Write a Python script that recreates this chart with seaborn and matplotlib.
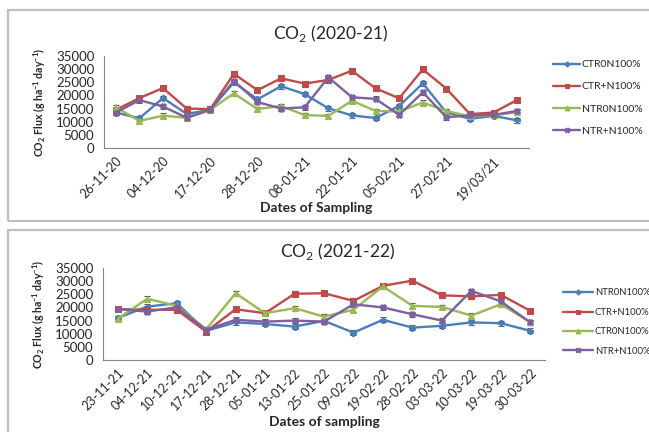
import matplotlib
matplotlib.use("Agg")
import matplotlib.pyplot as plt
from matplotlib.patches import Rectangle
import numpy as np
import pandas as pd
import seaborn as sns

# 2020-21 season
dates_1 = ["26-11-20", "", "04-12-20", "", "17-12-20", "", "28-12-20", "", "08-01-21", "",
           "22-01-21", "", "05-02-21", "", "27-02-21", "", "19/03/21", ""]
ctr0_1 = [13500, 11300, 19000, 13000, 14500, 25000, 18500, 23500, 20500, 15100,
          12400, 11400, 16000, 24600, 13500, 11100, 12200, 10500]
ctrn_1 = [14500, 19000, 22800, 15000, 14800, 28200, 22000, 26500, 24500, 25900,
          29400, 22700, 18900, 29900, 22600, 12900, 13500, 18300]
ntr0_1 = [15500, 10300, 12300, 11500, 14500, 20800, 14800, 16000, 12500, 12200,
          18000, 14100, 13900, 17300, 14100, 12000, 12400, 13600]
ntrn_1 = [13500, 18200, 15800, 11500, 14500, 25500, 17500, 15000, 15500, 26900,
          19300, 18700, 12600, 21200, 11700, 12400, 12600, 14100]

# 2021-22 season
dates_2 = ["23-11-21", "04-12-21", "10-12-21", "17-12-21", "28-12-21", "05-01-21", "13-01-22",
           "25-01-22", "09-02-22", "19-02-22", "28-02-22", "03-03-22", "10-03-22", "19-03-22",
           "30-03-22"]
ntr0_2 = [16000, 20300, 21600, 11100, 14300, 13700, 12700, 14900, 10400, 15300,
          12300, 13000, 14300, 14000, 11100]
ctrn_2 = [19400, 19100, 19100, 10800, 19300, 17800, 25200, 25400, 22500, 28200,
          30200, 24600, 24200, 24800, 18700]
ctr0_2 = [15700, 23300, 20600, 11700, 25400, 17800, 19700, 16500, 19100, 28000,
          20600, 20200, 16900, 21200, 14400]
ntrn_2 = [19400, 18400, 20100, 11500, 15300, 14600, 15000, 14600, 21200, 20000,
          17400, 15000, 26300, 22300, 14300]

err = 900

BLUE = "#4A7EBB"
RED = "#BE4B48"
GREEN = "#98B954"
PURPLE = "#7D60A0"
GREY = "#868686"

sns.set_style("white")
plt.rcParams["font.family"] = ["Lato", "DejaVu Sans"]
plt.rcParams["mathtext.fontset"] = "custom"
plt.rcParams["mathtext.rm"] = "Lato"
plt.rcParams["mathtext.bf"] = "Lato:bold"

fig = plt.figure(figsize=(6.49, 4.32), dpi=100)

# panel frames
for y0, h in [(1 - 221 / 432, 211 / 432), (-0.1, 1 - 230 / 432 + 0.1)]:
    fig.patches.append(Rectangle((8 / 649, y0), 1.1, h, transform=fig.transFigure,
                                 fill=False, edgecolor="#BFBFBF", lw=1.6))


def panel(rect, dates, series, title, xlabel, leg_xy, leg_fs, leg_hl, leg_sp, title_y, xlab_pad):
    ax = fig.add_axes(rect)
    rows = []
    for name, vals, col, mk in series:
        for i, v in enumerate(vals):
            rows.append({"i": i, "flux": v, "series": name})
    df = pd.DataFrame(rows)
    names = [s[0] for s in series]
    sns.lineplot(data=df, x="i", y="flux", hue="series", style="series",
                 hue_order=names, style_order=names,
                 palette={s[0]: s[2] for s in series},
                 markers={s[0]: s[3] for s in series}, dashes=False,
                 lw=1.7, markersize=4.2, ax=ax, legend=True)
    for ln in ax.lines:
        ln.set_markeredgecolor(ln.get_color())
    for name, vals, col, mk in series:
        ax.errorbar(range(len(vals)), vals, yerr=err, fmt="none", ecolor="#505050",
                    elinewidth=0.8, capsize=2.5, capthick=0.8, zorder=1)
    n = len(dates)
    ax.set_xlim(-0.5, n - 0.5)
    ax.set_ylim(0, 35000)
    ax.set_yticks(range(0, 35001, 5000))
    ax.set_xticks(range(n))
    ax.set_xticklabels(dates, rotation=45, ha="right", rotation_mode="anchor", fontsize=9)
    ax.set_xticks(np.arange(-0.5, n, 1), minor=True)
    ax.tick_params(axis="x", which="major", length=0, pad=5)
    ax.tick_params(axis="x", which="minor", length=4, color=GREY, width=0.8, direction="out")
    ax.tick_params(axis="y", length=4, color=GREY, width=0.8, direction="out", labelsize=9.5, pad=3)
    for s in ["top", "right"]:
        ax.spines[s].set_visible(False)
    for s in ["left", "bottom"]:
        ax.spines[s].set_color(GREY)
        ax.spines[s].set_linewidth(0.8)
    ax.set_ylabel(r"CO$_\mathbf{2}$ Flux (g ha$^\mathbf{-1}$ day$^\mathbf{-1}$)",
                  fontsize=7.6, fontweight="bold", labelpad=6)
    ax.set_xlabel(xlabel, fontsize=10, fontweight="bold", labelpad=xlab_pad)
    fig.text(0.5 * (rect[0] * 2 + rect[2]) + 14 / 649, title_y, title, fontsize=12.5,
             ha="center", va="center")
    leg = ax.legend(loc="center left", bbox_to_anchor=leg_xy, bbox_transform=fig.transFigure,
                    frameon=False, fontsize=leg_fs, handlelength=leg_hl, labelspacing=leg_sp,
                    handletextpad=0.15, borderaxespad=0, borderpad=0)
    for h in leg.get_lines():
        h.set_markeredgecolor(h.get_color())
        h.set_markersize(3.5)
    return ax


panel([104 / 649, 1 - 148 / 432, 425 / 649, 92 / 432], dates_1,
      [("CTR0N100%", ctr0_1, BLUE, "P"), ("CTR+N100%", ctrn_1, RED, "s"),
       ("NTR0N100%", ntr0_1, GREEN, "^"), ("NTR+N100%", ntrn_1, PURPLE, "X")],
      "CO$_2$ (2020-21)", "Dates of Sampling", (553 / 649, 1 - 98 / 432), 7.5, 2.6, 1.25,
      1 - 33 / 432, 0)

panel([103 / 649, 1 - 360 / 432, 442 / 649, 92 / 432], dates_2,
      [("NTR0N100%", ntr0_2, BLUE, "P"), ("CTR+N100%", ctrn_2, RED, "s"),
       ("CTR0N100%", ctr0_2, GREEN, "^"), ("NTR+N100%", ntrn_2, PURPLE, "X")],
      "CO$_2$ (2021-22)", "Dates of sampling", (563 / 649, 1 - 322 / 432), 6.8, 3.2, 1.1,
      1 - 251 / 432, 2)

fig.savefig("out.png", dpi=100)
